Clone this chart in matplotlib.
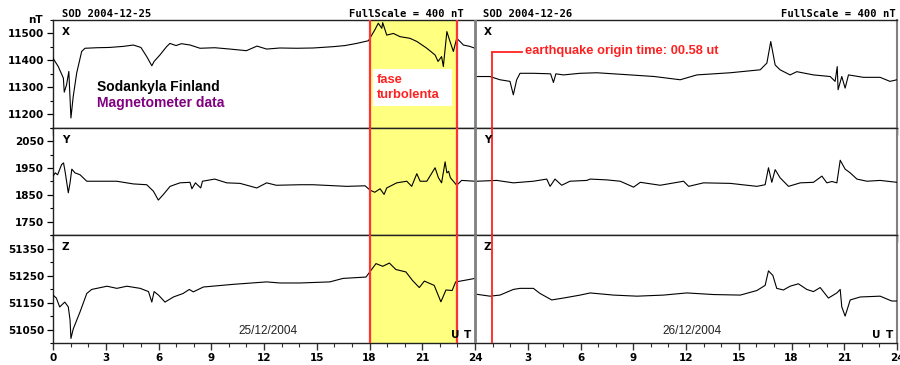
import matplotlib
matplotlib.use("Agg")
import matplotlib.pyplot as plt
from matplotlib.ticker import MultipleLocator, FixedLocator
from matplotlib.patches import Rectangle

# ---------------- data (hours UT, nT) ----------------
x_d1_t = [0, 0.3, 0.59, 0.64, 0.77, 0.9, 1.02, 1.15, 1.35, 1.63, 1.82, 2.5, 3.2, 4.0, 4.57, 5.0,
          5.33, 5.62, 5.75, 6.08, 6.46, 6.65, 7.0, 7.3, 7.8, 8.36, 9.2, 10.07, 11.0, 11.6, 12.15,
          12.9, 13.86, 14.8, 15.95, 16.6, 17.27, 17.94, 18.3, 18.5, 18.7, 18.75, 18.98, 19.36,
          19.74, 20.3, 20.7, 21.26, 21.73, 21.9, 22.1, 22.2, 22.4, 22.58, 22.77, 22.96, 23.15,
          23.34, 23.7, 24.0]
x_d1_v = [11408, 11377, 11334, 11282, 11309, 11359, 11186, 11266, 11354, 11433, 11445, 11447,
          11448, 11452, 11457, 11448, 11414, 11380, 11396, 11420, 11451, 11463, 11455, 11462,
          11457, 11445, 11447, 11442, 11436, 11453, 11442, 11446, 11445, 11446, 11451, 11455,
          11463, 11473, 11513, 11538, 11519, 11540, 11494, 11500, 11488, 11482, 11470, 11445,
          11420, 11396, 11414, 11377, 11507, 11470, 11433, 11482, 11470, 11457, 11452, 11445]
x_d2_t = [0.1, 0.85, 1.42, 1.99, 2.18, 2.37, 2.56, 3.32, 4.3, 4.46, 4.6, 5.03, 5.98, 6.93,
          8.83, 10.2, 11.67, 12.62, 14.52, 16.22, 16.6, 16.82, 17.07, 17.35, 17.92, 18.3,
          19.25, 20.2, 20.48, 20.6, 20.65, 20.86, 21.05, 21.24, 22.09, 23.04, 23.6, 24.0]
x_d2_v = [11340, 11340, 11328, 11322, 11272, 11328, 11352, 11352, 11350, 11318, 11350, 11346,
          11352, 11354, 11346, 11340, 11328, 11346, 11354, 11365, 11390, 11470, 11383, 11365,
          11346, 11358, 11346, 11340, 11322, 11377, 11291, 11340, 11297, 11346, 11337, 11337,
          11322, 11328]

y_d1_t = [0, 0.13, 0.26, 0.49, 0.6, 0.7, 0.87, 0.97, 1.07, 1.25, 1.54, 1.92, 2.67, 3.62, 4.57,
          5.33, 5.71, 5.99, 6.28, 6.66, 7.22, 7.79, 7.9, 8.1, 8.4, 8.5, 9.2, 9.88, 10.64, 11.59,
          12.15, 12.7, 14.05, 14.8, 16.7, 17.75, 18.03, 18.3, 18.6, 18.83, 18.98, 19.55, 20.12,
          20.4, 20.69, 20.88, 21.26, 21.73, 21.92, 22.1, 22.3, 22.4, 22.5, 22.6, 22.96, 23.24,
          24.0]
y_d1_v = [1920, 1932, 1925, 1963, 1969, 1932, 1858, 1895, 1946, 1932, 1925, 1901, 1901, 1901,
          1891, 1888, 1864, 1831, 1852, 1882, 1895, 1897, 1873, 1895, 1876, 1901, 1909, 1895,
          1893, 1876, 1895, 1886, 1888, 1888, 1882, 1884, 1868, 1860, 1873, 1852, 1876, 1895,
          1901, 1882, 1929, 1901, 1901, 1951, 1914, 1895, 1973, 1932, 1938, 1914, 1886, 1904,
          1901]
y_d2_t = [0.1, 1.24, 2.18, 3.32, 4.08, 4.27, 4.55, 4.93, 5.4, 6.36, 6.55, 7.5, 8.26, 9.02, 9.4,
          10.53, 11.86, 12.15, 13.0, 14.52, 16.03, 16.5, 16.69, 16.88, 17.07, 17.35, 17.83,
          18.5, 19.25, 19.73, 20.01, 20.3, 20.58, 20.77, 21.05, 21.34, 21.72, 22.29, 23.04, 24.0]
y_d2_v = [1901, 1904, 1895, 1901, 1909, 1882, 1909, 1886, 1901, 1904, 1909, 1906, 1901, 1879,
          1897, 1886, 1901, 1882, 1895, 1893, 1882, 1888, 1951, 1897, 1944, 1914, 1882, 1895,
          1897, 1920, 1895, 1900, 1895, 1979, 1946, 1932, 1909, 1901, 1904, 1897]

z_d1_t = [0, 0.19, 0.38, 0.67, 0.87, 0.97, 1.02, 1.15, 1.54, 1.92, 2.2, 3.07, 3.63, 4.2, 4.96,
          5.43, 5.62, 5.75, 6.0, 6.37, 6.85, 7.4, 7.75, 7.98, 8.55, 10.26, 12.15, 12.9, 14.05,
          15.74, 16.5, 17.8, 18.37, 18.75, 19.13, 19.5, 20.07, 20.45, 20.83, 21.12, 21.68,
          22.06, 22.35, 22.7, 22.9, 23.34, 24.0]
z_d1_v = [51178, 51167, 51134, 51152, 51134, 51085, 51017, 51052, 51116, 51184, 51199, 51211,
          51203, 51211, 51203, 51191, 51152, 51191, 51178, 51152, 51171, 51184, 51199, 51190,
          51208, 51218, 51227, 51223, 51223, 51227, 51240, 51245, 51295, 51285, 51297, 51273,
          51264, 51232, 51206, 51230, 51214, 51153, 51197, 51195, 51227, 51232, 51240]
z_d2_t = [0.1, 0.85, 1.42, 2.18, 2.56, 3.32, 3.7, 4.36, 5.03, 5.98, 6.55, 7.88, 9.21, 10.72,
          12.05, 13.57, 15.09, 16.03, 16.5, 16.69, 16.94, 17.16, 17.54, 17.92, 18.39, 18.87,
          19.25, 19.63, 20.1, 20.58, 20.77, 20.86, 21.05, 21.34, 21.91, 23.04, 23.7, 24.0]
z_d2_v = [51181, 51174, 51178, 51199, 51203, 51203, 51184, 51160, 51167, 51178, 51186, 51178,
          51174, 51178, 51186, 51180, 51178, 51195, 51214, 51268, 51251, 51203, 51197, 51211,
          51220, 51199, 51191, 51206, 51167, 51186, 51199, 51134, 51100, 51160, 51171, 51174,
          51156, 51156]

components = ["X", "Y", "Z"]
ylims = [(11150, 11550), (1700, 2100), (51000, 51400)]
yticks = [[11200, 11300, 11400, 11500], [1750, 1850, 1950, 2050], [51050, 51150, 51250, 51350]]
xtick_labels = ["0", "3", "6", "9", "12", "15", "18", "21", "24",
                "3", "6", "9", "12", "15", "18", "21", "24"]
turb_start, turb_end = 18.0, 23.0
quake_time = 24 + 58 / 60.0

series = [(x_d1_t, x_d1_v, x_d2_t, x_d2_v),
          (y_d1_t, y_d1_v, y_d2_t, y_d2_v),
          (z_d1_t, z_d1_v, z_d2_t, z_d2_v)]

# ---------------- figure ----------------
W, H = 900, 365
fig = plt.figure(figsize=(W / 100, H / 100), dpi=100)

def fx(px):
    return px / W

def fy(py):
    return 1 - py / H

left, right = 53, 897
top, bottom = 20, 343
rowh = (bottom - top) / 3.0

tickfont = dict(family="DejaVu Sans", weight="bold", size=7.5)
axes = []
for i in range(3):
    y0 = top + i * rowh
    ax = fig.add_axes([fx(left), fy(y0 + rowh), fx(right - left), rowh / H])
    axes.append(ax)
    t1, v1, t2, v2 = series[i]
    ax.axvspan(turb_start, turb_end, color="#ffff80", zorder=0, lw=0)
    ax.plot(t1, v1, color="black", lw=0.8, zorder=3)
    ax.plot([t + 24 for t in t2], v2, color="black", lw=0.8, zorder=3)
    ax.axvline(24, color="#808080", lw=2, zorder=4)
    ax.axvline(turb_start, color="#ff3333", lw=1.6, zorder=4)
    ax.axvline(turb_end, color="#ff3333", lw=1.6, zorder=4)
    lo, hi = ylims[i]
    if i == 0:
        yq = 11431
        ax.plot([quake_time, quake_time], [lo, yq], color="#ff2222", lw=1.3, zorder=4,
                solid_capstyle="butt")
        ax.plot([quake_time, 26.68], [yq, yq], color="#ff2222", lw=1.3, zorder=4)
        ax.text(26.85, yq + 4, "earthquake origin time: 00.58 ut", color="#ff2020",
                fontsize=9.3, fontweight="bold", family="Liberation Sans", va="center",
                ha="left", zorder=5)
    else:
        ax.axvline(quake_time, color="#ff2222", lw=1.3, zorder=4)
    ax.set_xlim(0, 48)
    ax.set_ylim(lo, hi)
    ax.yaxis.set_major_locator(FixedLocator(yticks[i]))
    ax.yaxis.set_minor_locator(MultipleLocator(50))
    ax.xaxis.set_major_locator(MultipleLocator(3))
    ax.xaxis.set_minor_locator(MultipleLocator(1))
    ax.tick_params(axis="x", which="major", direction="out", length=5, width=1, color="#333333")
    ax.tick_params(axis="x", which="minor", direction="out", length=3, width=0.8, color="#333333")
    ax.tick_params(axis="y", which="major", direction="out", length=4.5, width=0.9, color="black",
                   pad=2)
    ax.tick_params(axis="y", which="minor", direction="out", length=2.5, width=0.8, color="black")
    ax.set_yticklabels([str(v) for v in yticks[i]], fontdict=tickfont)
    if i < 2:
        ax.set_xticklabels([])
    else:
        ax.set_xticks(range(0, 49, 3))
        ax.set_xticklabels(xtick_labels, fontdict=tickfont)
        ax.tick_params(axis="x", pad=2)
    for s in ["left", "top", "bottom"]:
        ax.spines[s].set_color("#222222")
        ax.spines[s].set_linewidth(1)
    ax.spines["right"].set_color("#808080")
    ax.spines["right"].set_linewidth(1.5)
    # component labels
    fig.text(fx(62), fy(y0 + 12), components[i], fontsize=7.5, fontweight="bold",
             family="DejaVu Sans", va="center", ha="left")
    fig.text(fx(484), fy(y0 + 12), components[i], fontsize=7.5, fontweight="bold",
             family="DejaVu Sans", va="center", ha="left")

mono = dict(family="DejaVu Sans Mono", fontweight="bold", fontsize=7.6, va="center")
fig.text(fx(62), fy(14), "SOD 2004-12-25", ha="left", **mono)
fig.text(fx(464), fy(14), "FullScale = 400 nT", ha="right", **mono)
fig.text(fx(483), fy(14), "SOD 2004-12-26", ha="left", **mono)
fig.text(fx(896), fy(14), "FullScale = 400 nT", ha="right", **mono)
fig.text(fx(43), fy(20), "nT", ha="right", va="center", fontsize=7.5, fontweight="bold",
         family="DejaVu Sans")

fig.text(fx(97), fy(87), "Sodankyla Finland", color="black", fontsize=10, fontweight="bold",
         family="Liberation Sans", ha="left", va="center")
fig.text(fx(97), fy(103), "Magnetometer data", color="#800080", fontsize=10, fontweight="bold",
         family="Liberation Sans", ha="left", va="center")

# white box behind "fase turbolenta"
fig.patches.append(Rectangle((fx(373), fy(106)), fx(452 - 373), (106 - 69) / H,
                             transform=fig.transFigure, facecolor="white", edgecolor="none",
                             zorder=5))
fig.text(fx(377), fy(87.5), "fase\nturbolenta", color="#ff2020", fontsize=9.3, fontweight="bold",
         family="Liberation Sans", ha="left", va="center", linespacing=1.3, zorder=6)

fig.text(fx(268), fy(331), "25/12/2004", fontsize=8.5, family="Liberation Sans", color="#222222",
         ha="center", va="center")
fig.text(fx(692), fy(331), "26/12/2004", fontsize=8.5, family="Liberation Sans", color="#222222",
         ha="center", va="center")
for xu, xt in [(455, 468), (876, 890)]:
    fig.text(fx(xu), fy(335), "U", fontsize=7.5, fontweight="bold", family="DejaVu Sans",
             ha="center", va="center")
    fig.text(fx(xt), fy(335), "T", fontsize=7.5, fontweight="bold", family="DejaVu Sans",
             ha="center", va="center")

fig.savefig("out.png", dpi=100)
